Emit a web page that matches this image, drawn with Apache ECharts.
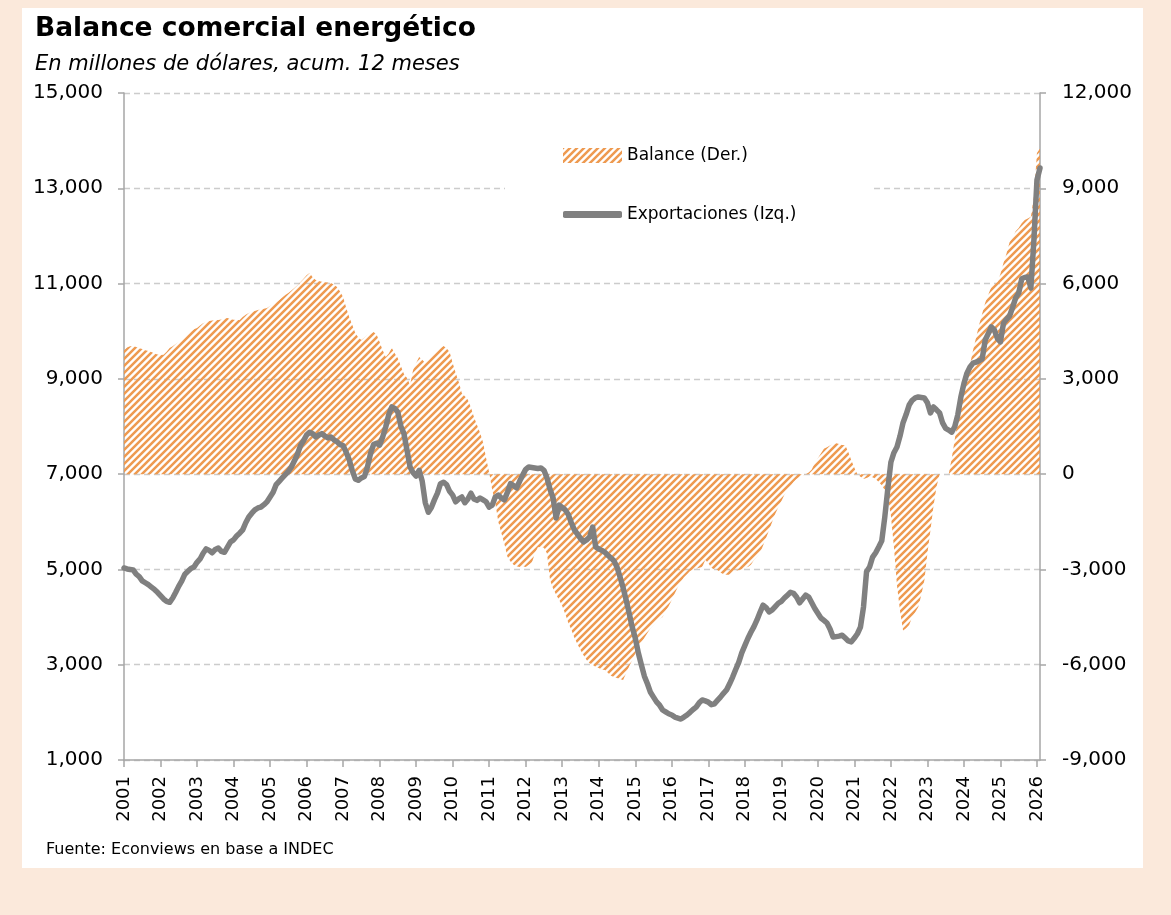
<!DOCTYPE html>
<html>
<head>
<meta charset="utf-8">
<script src="https://cdn.jsdelivr.net/npm/echarts@6/dist/echarts.min.js"></script>
<style>
  html, body { margin: 0; padding: 0; background: #fbe9db; }
  #panel { position: absolute; left: 22px; top: 8px; width: 1121px; height: 860px; background: #fff; }
  #chart { position: absolute; left: 0; top: 0; width: 1171px; height: 915px; }
</style>
</head>
<body>
<div id="panel"></div>
<div id="chart"></div>
<script>
// serie mensual, ene-2001 a feb-2026
const startYear = 2001;

// Exportaciones (Izq.), millones USD acum. 12 meses
const exportaciones = [
  5030, 5010, 5000, 4990, 4900, 4850, 4760, 4720, 4680, 4630, 4580, 4520,
  4450, 4380, 4330, 4310, 4400, 4520, 4650, 4760, 4900, 4960, 5020, 5050,
  5150, 5220, 5340, 5430, 5400, 5350, 5420, 5450, 5380, 5360, 5470, 5580,
  5620, 5700, 5760, 5830, 5980, 6100, 6180, 6250, 6290, 6310, 6360, 6420,
  6520, 6620, 6780, 6850, 6920, 6990, 7060, 7150, 7280, 7420, 7600, 7700,
  7820, 7880, 7850, 7780, 7820, 7850, 7800, 7760, 7780, 7720, 7680, 7620,
  7600, 7460, 7300, 7080, 6900, 6870, 6920, 6950, 7150, 7430, 7620, 7650,
  7610, 7780, 7990, 8250, 8410, 8380, 8300, 8000, 7850, 7500, 7150, 7030,
  6960, 7080, 6850, 6400, 6200, 6300, 6460, 6600, 6800, 6830, 6780, 6640,
  6560, 6420, 6480, 6520, 6400, 6480, 6600, 6480, 6450, 6500, 6460, 6420,
  6310, 6350, 6520, 6560, 6500, 6460, 6620, 6800, 6760, 6710, 6850, 6980,
  7100, 7150, 7140, 7130, 7120, 7130, 7080, 6920, 6680, 6500, 6080, 6350,
  6300, 6250, 6150, 5980, 5830, 5740, 5650, 5580, 5620, 5680, 5890, 5470,
  5430, 5400, 5360, 5300, 5240, 5180, 5050, 4840, 4620, 4360, 4080, 3790,
  3560, 3250, 3000, 2760, 2600, 2420, 2320, 2220, 2150, 2050, 2010, 1970,
  1945, 1900, 1880, 1860, 1900, 1945, 2000, 2060, 2110, 2200, 2260, 2240,
  2215, 2160, 2180, 2250, 2320, 2400, 2470, 2600, 2740, 2900, 3050, 3250,
  3400, 3550, 3680, 3800, 3940, 4100, 4250, 4200, 4110, 4150, 4220, 4290,
  4330, 4400, 4460, 4520, 4500, 4420, 4300, 4380, 4460, 4420, 4300, 4180,
  4080, 3980, 3930, 3875, 3750, 3580, 3590, 3600, 3620, 3560, 3500, 3480,
  3560, 3650, 3790, 4210, 4950, 5050, 5260, 5350, 5470, 5600, 6100, 6700,
  7250, 7450, 7570, 7800, 8080, 8250, 8450, 8550, 8600, 8620, 8610, 8600,
  8500, 8285, 8410, 8350, 8285, 8075, 7960, 7925, 7880, 8000, 8250, 8620,
  8900, 9120, 9250, 9330, 9350, 9380, 9420, 9815, 9950, 10090, 10025, 9850,
  9775, 10170, 10250, 10320, 10500, 10700, 10800, 11100, 11130, 11140, 10905, 11915,
  13175, 13425
];

// Balance (Der.)
const balance = [
  3900, 3990, 4030, 4035, 4000, 3960, 3940, 3900, 3880, 3845, 3800, 3770,
  3750, 3760, 3850, 3970, 4030, 4100, 4160, 4250, 4350, 4440, 4500, 4560,
  4600, 4680, 4750, 4790, 4820, 4840, 4850, 4850, 4870, 4900, 4915, 4880,
  4860, 4850, 4850, 4950, 5020, 5070, 5110, 5140, 5165, 5190, 5210, 5230,
  5290, 5360, 5420, 5480, 5560, 5640, 5700, 5780, 5860, 5950, 6050, 6150,
  6260, 6330, 6200, 6110, 6080, 6060, 6045, 6030, 6015, 5960, 5890, 5750,
  5575, 5250, 4945, 4700, 4440, 4300, 4220, 4300, 4380, 4420, 4475, 4400,
  4160, 3900, 3690, 3800, 3970, 3800, 3650, 3400, 3150, 3030, 2810, 3280,
  3500, 3690, 3600, 3500, 3600, 3690, 3800, 3910, 3980, 4035, 3960, 3845,
  3500, 3185, 2900, 2555, 2450, 2340, 2100, 1800, 1550, 1300, 1000, 500,
  50, -500, -900, -1500, -1850, -2200, -2600, -2750, -2850, -2900, -2920, -2900,
  -2920, -2850, -2800, -2500, -2300, -2290, -2320, -2500, -3330, -3600, -3800, -3960,
  -4150, -4400, -4680, -4900, -5150, -5350, -5540, -5700, -5850, -5950, -6000, -6070,
  -6100, -6150, -6170, -6250, -6350, -6390, -6420, -6450, -6485, -6270, -6050, -5860,
  -5650, -5450, -5320, -5150, -5000, -4850, -4750, -4650, -4550, -4500, -4300, -4150,
  -3960, -3750, -3550, -3400, -3250, -3150, -3050, -3020, -2980, -2950, -2920, -2700,
  -2800, -2950, -3000, -3020, -3100, -3150, -3170, -3170, -3100, -3050, -3020, -3000,
  -2950, -2920, -2850, -2700, -2600, -2480, -2250, -2000, -1760, -1500, -1250, -1040,
  -850, -650, -500, -400, -250, -150, -100, -50, 0, 50, 150, 350,
  500, 650, 800, 850, 900, 950, 975, 950, 920, 910, 700, 440,
  200, 0, -80, -150, -120, -80, -100, -150, -250, -350, -500, -730,
  -1300, -2290, -3500, -4300, -4920, -4850, -4750, -4500, -4350, -4180, -3800, -3340,
  -2500, -1770, -1000, -400, 0, 0, 0, 0, 500, 1100, 1750, 2300,
  2800, 3150, 3450, 3900, 4300, 4700, 5050, 5400, 5650, 5890, 5980, 6050,
  6300, 6650, 6950, 7300, 7450, 7650, 7750, 7900, 8000, 8050, 8100, 8730,
  10110, 10250
];

// categorias mensuales "2001-01" ...
const meses = exportaciones.map((v, i) => {
  const y = startYear + Math.floor(i / 12);
  const m = (i % 12) + 1;
  return y + '-' + (m < 10 ? '0' + m : m);
});

const font = 'DejaVu Sans';

// trama rayada para el balance
function rayado() {
  const s = 7;
  const c = document.createElement('canvas');
  c.width = s; c.height = s;
  const ctx = c.getContext('2d');
  ctx.strokeStyle = '#ee9a50';
  ctx.lineWidth = 2.5;
  ctx.beginPath();
  for (let k = -1; k <= 1; k++) {
    ctx.moveTo(k * s - 1, s + 1);
    ctx.lineTo(k * s + s + 1, -1);
  }
  ctx.stroke();
  return { image: c, repeat: 'repeat' };
}
const trama = rayado();

const fmt = v => v.toLocaleString('en-US');
const esEnero = idx => idx % 12 === 0;

let myChart = echarts.init(document.getElementById('chart'));
myChart.setOption({
  animation: false,
  title: {
    text: 'Balance comercial energético',
    subtext: 'En millones de dólares, acum. 12 meses',
    left: 35,
    top: 16,
    padding: 0,
    itemGap: 11,
    textStyle: { fontFamily: font, fontSize: 26.5, fontWeight: 'bold', color: '#000' },
    subtextStyle: { fontFamily: font, fontSize: 21, fontStyle: 'italic', color: '#000' }
  },
  legend: [
    {
      left: 563, top: 147, padding: 0, selectedMode: false,
      itemWidth: 59, itemHeight: 15,
      data: [{ name: 'Balance (Der.)', icon: 'rect', itemStyle: { color: trama, borderWidth: 0 } }],
      textStyle: { fontFamily: font, fontSize: 17, color: '#000' }
    },
    {
      left: 563, top: 206, padding: 0, selectedMode: false,
      itemWidth: 59, itemHeight: 7,
      data: [{ name: 'Exportaciones (Izq.)', icon: 'roundRect', itemStyle: { color: '#808080', borderWidth: 0 } }],
      textStyle: { fontFamily: font, fontSize: 17, color: '#000' }
    }
  ],
  graphic: [
    { type: 'rect', z: 3, shape: { x: 505, y: 113, width: 368, height: 132 }, style: { fill: '#fff' } },
    {
      type: 'text', left: 46, top: 842,
      style: { text: 'Fuente: Econviews en base a INDEC', font: '16px "DejaVu Sans"', fill: '#000' }
    }
  ],
  grid: { left: 124, right: 131, top: 93, bottom: 155 },
  xAxis: {
    type: 'category',
    data: meses,
    boundaryGap: false,
    axisLine: { onZero: false, lineStyle: { color: '#a6a6a6', width: 1.5 } },
    axisTick: { interval: esEnero, length: 7, lineStyle: { color: '#a6a6a6', width: 1.5 } },
    axisLabel: {
      interval: esEnero, rotate: 90, margin: 16,
      fontFamily: font, fontSize: 18, color: '#000',
      formatter: v => v.slice(0, 4)
    },
    splitLine: { show: false }
  },
  yAxis: [
    {
      type: 'value', position: 'left',
      min: 1000, max: 15000, interval: 2000,
      axisLine: { show: true, lineStyle: { color: '#a6a6a6', width: 1.5 } },
      axisTick: { show: true, length: 6, lineStyle: { color: '#a6a6a6', width: 1.5 } },
      axisLabel: { margin: 21, fontFamily: font, fontSize: 20, color: '#000', formatter: fmt },
      splitLine: { show: true, lineStyle: { color: '#cccccc', width: 1.3, type: [6, 4] } }
    },
    {
      type: 'value', position: 'right',
      min: -9000, max: 12000, interval: 3000,
      axisLine: { show: true, lineStyle: { color: '#a6a6a6', width: 1.5 } },
      axisTick: { show: true, length: 6, lineStyle: { color: '#a6a6a6', width: 1.5 } },
      axisLabel: { margin: 22, fontFamily: font, fontSize: 20, color: '#000', formatter: fmt },
      splitLine: { show: false }
    }
  ],
  series: [
    {
      name: 'Balance (Der.)',
      type: 'line',
      yAxisIndex: 1,
      data: balance,
      showSymbol: false,
      lineStyle: { width: 0 },
      areaStyle: { color: trama, opacity: 1 },
      z: 2
    },
    {
      name: 'Exportaciones (Izq.)',
      type: 'line',
      yAxisIndex: 0,
      data: exportaciones,
      showSymbol: false,
      color: '#808080',
      lineStyle: { color: '#808080', width: 5.5, join: 'round', cap: 'round' },
      z: 5
    }
  ]
});
</script>
</body>
</html>
